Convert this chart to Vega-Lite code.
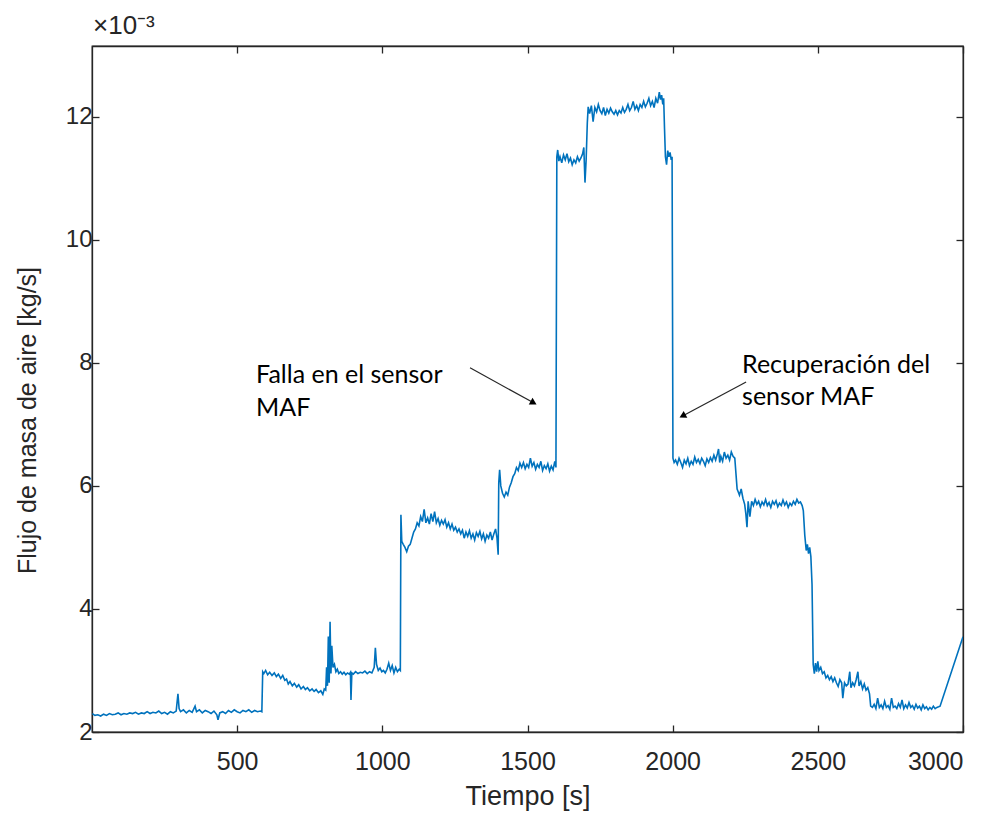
{
  "$schema": "https://vega.github.io/schema/vega-lite/v6.json",
  "autosize": "none",
  "width": 871,
  "height": 686,
  "padding": {"left": 92, "top": 46, "right": 32, "bottom": 84},
  "background": "white",
  "title": {"text": "×10⁻³", "anchor": "start", "frame": "group", "font": "Arial, Liberation Sans, Helvetica, sans-serif", "fontSize": 26, "fontWeight": "normal", "color": "#262626", "offset": 6, "dx": 1},
  "config": {
    "font": "Arial, Liberation Sans, Helvetica, sans-serif",
    "view": {"stroke": "#262626", "strokeWidth": 1.3},
    "axis": {"domainColor": "#262626", "domainWidth": 1.3, "tickColor": "#262626", "tickWidth": 1.3, "grid": false, "labelFont": "Arial, Liberation Sans, Helvetica, sans-serif", "labelFontSize": 24, "labelColor": "#262626", "titleFont": "Arial, Liberation Sans, Helvetica, sans-serif", "titleFontSize": 25, "titleFontWeight": "normal", "titleColor": "#262626"}
  },
  "datasets": {
    "serie": [
      {"t":1,"v":2.30},{"t":10,"v":2.27},{"t":20,"v":2.28},{"t":30,"v":2.26},{"t":40,"v":2.29},{"t":50,"v":2.27},{"t":60,"v":2.30},{"t":70,"v":2.28},{"t":80,"v":2.29},{"t":90,"v":2.31},{"t":100,"v":2.28},{"t":110,"v":2.30},{"t":120,"v":2.29},{"t":130,"v":2.31},{"t":140,"v":2.30},{"t":150,"v":2.32},{"t":160,"v":2.29},{"t":170,"v":2.31},{"t":180,"v":2.30},{"t":190,"v":2.33},{"t":200,"v":2.30},{"t":210,"v":2.32},{"t":220,"v":2.31},{"t":230,"v":2.34},{"t":240,"v":2.30},{"t":250,"v":2.32},{"t":260,"v":2.29},{"t":270,"v":2.33},{"t":280,"v":2.31},{"t":290,"v":2.34},{"t":296,"v":2.62},{"t":300,"v":2.38},{"t":305,"v":2.33},{"t":315,"v":2.36},{"t":325,"v":2.31},{"t":335,"v":2.35},{"t":345,"v":2.32},{"t":355,"v":2.42},{"t":360,"v":2.33},{"t":370,"v":2.36},{"t":380,"v":2.31},{"t":390,"v":2.35},{"t":400,"v":2.33},{"t":410,"v":2.30},{"t":420,"v":2.34},{"t":430,"v":2.28},{"t":434,"v":2.20},{"t":440,"v":2.31},{"t":450,"v":2.33},{"t":460,"v":2.30},{"t":470,"v":2.35},{"t":480,"v":2.32},{"t":490,"v":2.36},{"t":500,"v":2.33},{"t":510,"v":2.31},{"t":520,"v":2.35},{"t":530,"v":2.33},{"t":540,"v":2.36},{"t":550,"v":2.32},{"t":560,"v":2.35},{"t":570,"v":2.33},{"t":580,"v":2.34},{"t":585,"v":2.33},
      {"t":588,"v":2.98},{"t":592,"v":2.95},{"t":598,"v":3.00},{"t":605,"v":2.93},{"t":612,"v":2.97},{"t":620,"v":2.92},{"t":628,"v":2.96},{"t":635,"v":2.90},{"t":642,"v":2.94},{"t":650,"v":2.87},{"t":657,"v":2.92},{"t":664,"v":2.84},{"t":670,"v":2.86},{"t":676,"v":2.78},{"t":682,"v":2.82},{"t":690,"v":2.75},{"t":697,"v":2.79},{"t":705,"v":2.73},{"t":712,"v":2.77},{"t":720,"v":2.70},{"t":728,"v":2.74},{"t":735,"v":2.69},{"t":742,"v":2.72},{"t":750,"v":2.67},{"t":758,"v":2.70},{"t":765,"v":2.66},{"t":772,"v":2.69},{"t":780,"v":2.64},{"t":788,"v":2.67},{"t":795,"v":2.61},{"t":800,"v":2.70},{"t":805,"v":2.68},{"t":808,"v":3.05},{"t":811,"v":2.75},{"t":814,"v":3.55},{"t":817,"v":2.80},{"t":820,"v":3.79},{"t":823,"v":2.95},{"t":826,"v":3.40},{"t":830,"v":3.05},{"t":835,"v":3.10},{"t":840,"v":2.98},{"t":845,"v":3.02},{"t":850,"v":2.95},{"t":856,"v":2.98},{"t":862,"v":2.94},{"t":868,"v":2.97},{"t":874,"v":2.93},{"t":880,"v":2.96},{"t":886,"v":2.94},{"t":890,"v":2.97},{"t":892,"v":2.52},{"t":895,"v":2.96},{"t":900,"v":2.94},{"t":908,"v":2.98},{"t":916,"v":2.95},{"t":924,"v":2.97},{"t":932,"v":2.96},{"t":940,"v":2.99},{"t":948,"v":2.95},{"t":956,"v":2.98},{"t":964,"v":2.96},{"t":972,"v":3.05},{"t":976,"v":3.37},{"t":980,"v":3.10},{"t":986,"v":3.00},{"t":992,"v":3.04},{"t":998,"v":2.98},{"t":1004,"v":3.00},{"t":1010,"v":2.96},{"t":1016,"v":3.02},{"t":1022,"v":3.12},{"t":1028,"v":3.00},{"t":1034,"v":3.08},{"t":1040,"v":2.96},{"t":1046,"v":3.05},{"t":1052,"v":2.98},{"t":1058,"v":3.02},{"t":1062,"v":3.00},
      {"t":1064,"v":5.53},{"t":1067,"v":5.10},{"t":1072,"v":5.05},{"t":1078,"v":5.00},{"t":1084,"v":4.93},{"t":1090,"v":5.02},{"t":1096,"v":5.05},{"t":1102,"v":5.15},{"t":1108,"v":5.25},{"t":1114,"v":5.30},{"t":1120,"v":5.40},{"t":1126,"v":5.35},{"t":1132,"v":5.50},{"t":1138,"v":5.42},{"t":1144,"v":5.62},{"t":1150,"v":5.40},{"t":1156,"v":5.48},{"t":1162,"v":5.38},{"t":1168,"v":5.55},{"t":1174,"v":5.42},{"t":1180,"v":5.58},{"t":1186,"v":5.40},{"t":1192,"v":5.47},{"t":1198,"v":5.36},{"t":1204,"v":5.44},{"t":1210,"v":5.38},{"t":1216,"v":5.45},{"t":1222,"v":5.33},{"t":1228,"v":5.40},{"t":1234,"v":5.30},{"t":1240,"v":5.38},{"t":1246,"v":5.28},{"t":1252,"v":5.33},{"t":1258,"v":5.25},{"t":1264,"v":5.30},{"t":1270,"v":5.22},{"t":1276,"v":5.28},{"t":1282,"v":5.15},{"t":1288,"v":5.25},{"t":1294,"v":5.18},{"t":1300,"v":5.27},{"t":1306,"v":5.15},{"t":1312,"v":5.22},{"t":1318,"v":5.12},{"t":1324,"v":5.24},{"t":1330,"v":5.18},{"t":1336,"v":5.26},{"t":1342,"v":5.14},{"t":1348,"v":5.22},{"t":1354,"v":5.10},{"t":1360,"v":5.20},{"t":1366,"v":5.15},{"t":1372,"v":5.25},{"t":1378,"v":5.12},{"t":1384,"v":5.22},{"t":1390,"v":5.30},{"t":1395,"v":5.15},{"t":1399,"v":4.88},
      {"t":1401,"v":6.05},{"t":1404,"v":6.26},{"t":1408,"v":6.00},{"t":1414,"v":5.88},{"t":1420,"v":5.82},{"t":1426,"v":5.90},{"t":1432,"v":5.85},{"t":1438,"v":5.98},{"t":1444,"v":6.05},{"t":1450,"v":6.15},{"t":1456,"v":6.20},{"t":1462,"v":6.30},{"t":1468,"v":6.25},{"t":1474,"v":6.37},{"t":1480,"v":6.30},{"t":1486,"v":6.38},{"t":1492,"v":6.28},{"t":1498,"v":6.35},{"t":1504,"v":6.30},{"t":1510,"v":6.45},{"t":1516,"v":6.32},{"t":1522,"v":6.38},{"t":1528,"v":6.27},{"t":1534,"v":6.35},{"t":1540,"v":6.30},{"t":1546,"v":6.40},{"t":1552,"v":6.25},{"t":1558,"v":6.33},{"t":1564,"v":6.28},{"t":1570,"v":6.36},{"t":1576,"v":6.24},{"t":1582,"v":6.32},{"t":1588,"v":6.26},{"t":1594,"v":6.40},{"t":1598,"v":6.30},
      {"t":1601,"v":11.35},{"t":1604,"v":11.46},{"t":1608,"v":11.28},{"t":1612,"v":11.35},{"t":1618,"v":11.25},{"t":1624,"v":11.38},{"t":1630,"v":11.30},{"t":1636,"v":11.40},{"t":1642,"v":11.27},{"t":1648,"v":11.33},{"t":1654,"v":11.22},{"t":1660,"v":11.30},{"t":1666,"v":11.25},{"t":1672,"v":11.35},{"t":1678,"v":11.28},{"t":1684,"v":11.33},{"t":1690,"v":11.40},{"t":1694,"v":11.50},{"t":1698,"v":10.93},{"t":1702,"v":11.30},{"t":1706,"v":11.90},{"t":1709,"v":12.16},{"t":1714,"v":12.05},{"t":1720,"v":12.18},{"t":1726,"v":11.92},{"t":1732,"v":12.15},{"t":1738,"v":12.08},{"t":1744,"v":12.20},{"t":1750,"v":12.10},{"t":1756,"v":12.05},{"t":1762,"v":12.15},{"t":1768,"v":12.02},{"t":1774,"v":12.12},{"t":1780,"v":12.06},{"t":1786,"v":12.14},{"t":1792,"v":12.08},{"t":1798,"v":12.04},{"t":1804,"v":12.10},{"t":1810,"v":12.03},{"t":1816,"v":12.10},{"t":1822,"v":12.06},{"t":1828,"v":12.15},{"t":1834,"v":12.07},{"t":1840,"v":12.12},{"t":1846,"v":12.20},{"t":1852,"v":12.10},{"t":1858,"v":12.15},{"t":1864,"v":12.25},{"t":1870,"v":12.12},{"t":1876,"v":12.18},{"t":1882,"v":12.10},{"t":1888,"v":12.20},{"t":1894,"v":12.15},{"t":1900,"v":12.25},{"t":1906,"v":12.16},{"t":1912,"v":12.22},{"t":1918,"v":12.30},{"t":1924,"v":12.18},{"t":1930,"v":12.25},{"t":1936,"v":12.15},{"t":1942,"v":12.30},{"t":1948,"v":12.22},{"t":1954,"v":12.40},{"t":1958,"v":12.28},{"t":1962,"v":12.35},{"t":1966,"v":12.20},{"t":1969,"v":12.30},{"t":1972,"v":11.80},{"t":1975,"v":11.35},{"t":1979,"v":11.22},{"t":1983,"v":11.45},{"t":1987,"v":11.35},{"t":1991,"v":11.42},{"t":1995,"v":11.30},{"t":1998,"v":11.35},
      {"t":2001,"v":6.45},{"t":2005,"v":6.38},{"t":2010,"v":6.42},{"t":2016,"v":6.35},{"t":2022,"v":6.45},{"t":2028,"v":6.38},{"t":2034,"v":6.30},{"t":2040,"v":6.42},{"t":2046,"v":6.36},{"t":2052,"v":6.45},{"t":2058,"v":6.33},{"t":2064,"v":6.40},{"t":2070,"v":6.35},{"t":2076,"v":6.47},{"t":2082,"v":6.38},{"t":2088,"v":6.43},{"t":2094,"v":6.36},{"t":2100,"v":6.45},{"t":2106,"v":6.40},{"t":2112,"v":6.33},{"t":2118,"v":6.44},{"t":2124,"v":6.38},{"t":2130,"v":6.46},{"t":2136,"v":6.40},{"t":2142,"v":6.50},{"t":2148,"v":6.42},{"t":2154,"v":6.52},{"t":2158,"v":6.60},{"t":2162,"v":6.38},{"t":2166,"v":6.48},{"t":2172,"v":6.40},{"t":2178,"v":6.55},{"t":2184,"v":6.45},{"t":2190,"v":6.50},{"t":2196,"v":6.42},{"t":2202,"v":6.55},{"t":2208,"v":6.48},{"t":2214,"v":6.45},{"t":2218,"v":6.20},{"t":2222,"v":5.95},{"t":2226,"v":5.90},{"t":2230,"v":5.85},{"t":2236,"v":5.95},{"t":2242,"v":5.80},{"t":2248,"v":5.70},{"t":2252,"v":5.55},{"t":2256,"v":5.33},{"t":2260,"v":5.75},{"t":2266,"v":5.50},{"t":2272,"v":5.75},{"t":2278,"v":5.68},{"t":2284,"v":5.78},{"t":2290,"v":5.70},{"t":2296,"v":5.75},{"t":2302,"v":5.66},{"t":2308,"v":5.74},{"t":2314,"v":5.69},{"t":2320,"v":5.78},{"t":2326,"v":5.68},{"t":2332,"v":5.73},{"t":2338,"v":5.65},{"t":2344,"v":5.75},{"t":2350,"v":5.70},{"t":2356,"v":5.76},{"t":2362,"v":5.66},{"t":2368,"v":5.72},{"t":2374,"v":5.68},{"t":2380,"v":5.77},{"t":2386,"v":5.69},{"t":2392,"v":5.74},{"t":2398,"v":5.65},{"t":2404,"v":5.72},{"t":2410,"v":5.68},{"t":2416,"v":5.75},{"t":2422,"v":5.70},{"t":2428,"v":5.78},{"t":2434,"v":5.72},{"t":2440,"v":5.74},{"t":2446,"v":5.68},{"t":2450,"v":5.60},{"t":2455,"v":5.20},{"t":2460,"v":4.95},{"t":2464,"v":5.05},{"t":2468,"v":4.90},{"t":2472,"v":5.00},{"t":2476,"v":4.85},{"t":2480,"v":4.40},
      {"t":2484,"v":3.10},{"t":2488,"v":2.95},{"t":2492,"v":3.12},{"t":2496,"v":2.98},{"t":2500,"v":3.15},{"t":2504,"v":3.00},{"t":2510,"v":3.05},{"t":2516,"v":2.95},{"t":2522,"v":2.98},{"t":2528,"v":2.88},{"t":2534,"v":2.92},{"t":2540,"v":2.85},{"t":2546,"v":2.90},{"t":2552,"v":2.82},{"t":2558,"v":2.88},{"t":2564,"v":2.80},{"t":2570,"v":2.74},{"t":2576,"v":2.85},{"t":2582,"v":2.80},{"t":2586,"v":2.55},{"t":2592,"v":2.80},{"t":2598,"v":2.75},{"t":2604,"v":2.78},{"t":2610,"v":2.98},{"t":2614,"v":2.72},{"t":2620,"v":2.80},{"t":2626,"v":2.75},{"t":2632,"v":2.85},{"t":2638,"v":2.98},{"t":2642,"v":2.75},{"t":2648,"v":2.82},{"t":2654,"v":2.70},{"t":2660,"v":2.78},{"t":2666,"v":2.68},{"t":2672,"v":2.72},{"t":2678,"v":2.62},{"t":2682,"v":2.42},{"t":2688,"v":2.40},{"t":2694,"v":2.45},{"t":2700,"v":2.38},{"t":2706,"v":2.55},{"t":2712,"v":2.40},{"t":2718,"v":2.44},{"t":2724,"v":2.38},{"t":2730,"v":2.50},{"t":2736,"v":2.40},{"t":2742,"v":2.43},{"t":2748,"v":2.37},{"t":2754,"v":2.55},{"t":2760,"v":2.40},{"t":2766,"v":2.42},{"t":2772,"v":2.38},{"t":2778,"v":2.46},{"t":2784,"v":2.40},{"t":2790,"v":2.52},{"t":2796,"v":2.38},{"t":2802,"v":2.44},{"t":2808,"v":2.39},{"t":2814,"v":2.48},{"t":2820,"v":2.40},{"t":2826,"v":2.43},{"t":2832,"v":2.37},{"t":2838,"v":2.45},{"t":2844,"v":2.39},{"t":2850,"v":2.42},{"t":2856,"v":2.36},{"t":2862,"v":2.44},{"t":2868,"v":2.38},{"t":2874,"v":2.41},{"t":2880,"v":2.36},{"t":2886,"v":2.40},{"t":2892,"v":2.37},{"t":2898,"v":2.42},{"t":2904,"v":2.38},{"t":2910,"v":2.40},{"t":2916,"v":2.41},{"t":2921,"v":2.42},{"t":3000,"v":3.55}
    ],
    "notas": [
      {"t": 565, "v": 7.67, "texto": "Falla en el sensor"},
      {"t": 565, "v": 7.14, "texto": "MAF"},
      {"t": 2239, "v": 7.84, "texto": "Recuperación del"},
      {"t": 2239, "v": 7.32, "texto": "sensor MAF"}
    ],
    "flechas": [
      {"t0": 1302, "v0": 7.92, "t1": 1521, "v1": 7.35, "ang": 119},
      {"t0": 2253, "v0": 7.69, "t1": 2034, "v1": 7.137, "ang": 242}
    ]
  },
  "resolve": {"axis": {"x": "independent", "y": "independent"}},
  "layer": [
    {
      "data": {"name": "serie"},
      "mark": {"type": "line", "color": "#0072BD", "strokeWidth": 1.6, "clip": true},
      "encoding": {
        "x": {"field": "t", "type": "quantitative", "scale": {"domain": [0, 3000], "nice": false, "zero": false},
              "axis": {"orient": "bottom", "values": [500, 1000, 1500, 2000, 2500, 3000], "format": "d", "title": "Tiempo [s]", "tickSize": -7, "labelPadding": 24, "titlePadding": 9, "labelFontSize": 25, "titleFontSize": 27}},
        "y": {"field": "v", "type": "quantitative", "scale": {"domain": [2, 13.15], "nice": false, "zero": false},
              "axis": {"orient": "left", "values": [2, 4, 6, 8, 10, 12], "format": "d", "title": "Flujo de masa de aire [kg/s]", "tickSize": -7, "labelPadding": 7, "titleX": -57, "titleY": 374, "titleAlign": "center", "titleBaseline": "alphabetic", "titleAngle": 270}}
      }
    },
    {
      "data": {"name": "flechas"},
      "mark": {"type": "rule", "color": "#262626", "strokeWidth": 1.2},
      "encoding": {
        "x": {"field": "t0", "type": "quantitative", "axis": {"orient": "top", "values": [500, 1000, 1500, 2000, 2500, 3000], "labels": false, "title": null, "tickSize": -7}},
        "y": {"field": "v0", "type": "quantitative", "axis": {"orient": "right", "values": [2, 4, 6, 8, 10, 12], "labels": false, "title": null, "tickSize": -7}},
        "x2": {"field": "t1"},
        "y2": {"field": "v1"}
      }
    },
    {
      "data": {"name": "flechas"},
      "mark": {"type": "point", "shape": "triangle-up", "filled": true, "color": "#000000", "size": 60, "opacity": 1},
      "encoding": {
        "x": {"field": "t1", "type": "quantitative", "axis": null},
        "y": {"field": "v1", "type": "quantitative", "axis": null},
        "angle": {"field": "ang", "type": "quantitative", "scale": null}
      }
    },
    {
      "data": {"name": "notas"},
      "mark": {"type": "text", "align": "left", "baseline": "alphabetic", "font": "Lato", "fontSize": 25, "color": "#000000"},
      "encoding": {
        "x": {"field": "t", "type": "quantitative", "axis": null},
        "y": {"field": "v", "type": "quantitative", "axis": null},
        "text": {"field": "texto", "type": "nominal"}
      }
    }
  ]
}
